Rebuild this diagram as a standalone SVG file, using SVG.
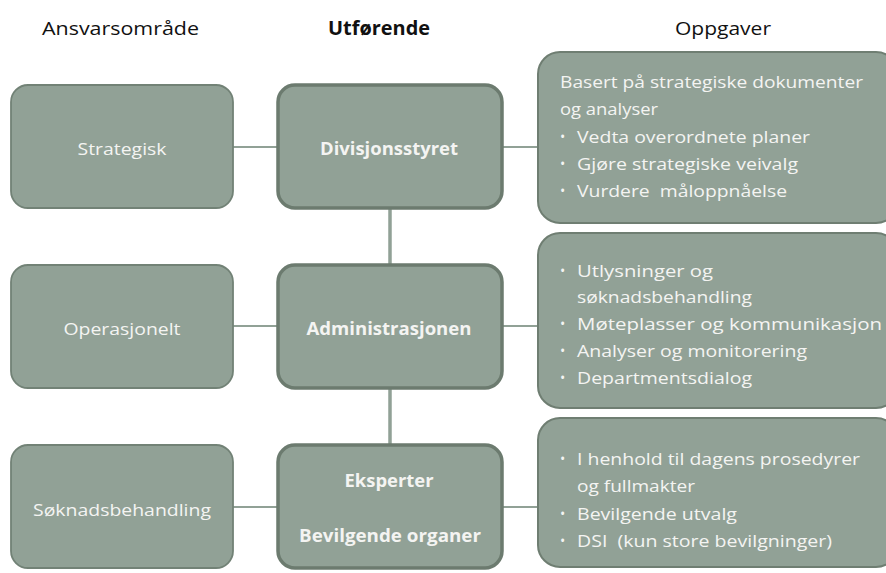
<svg xmlns="http://www.w3.org/2000/svg" width="886" height="573" viewBox="0 0 886 573">
<style>
.hdr{font-family:"Open Sans","Liberation Sans",sans-serif;font-size:19px;fill:#111;}
.b{font-weight:bold;}
.lbox{fill:#91a196;stroke:#728276;stroke-width:1.8;}
.mbox{fill:#91a196;stroke:#6c7b6f;stroke-width:3.5;}
.rbox{fill:#91a196;stroke:#6f7e72;stroke-width:2;}
.t{font-family:"Open Sans","Liberation Sans",sans-serif;font-size:17px;fill:#f4f4f2;}
.bu{font-family:"Open Sans","Liberation Sans",sans-serif;font-size:14px;fill:#f4f4f2;}
.c{text-anchor:middle;}
.con{stroke:#91a196;fill:none;}
</style>
<rect width="886" height="573" fill="#ffffff"/>
<text class="hdr" x="42" y="35" textLength="157" lengthAdjust="spacingAndGlyphs">Ansvarsområde</text>
<text class="hdr b" x="328" y="35" textLength="102" lengthAdjust="spacingAndGlyphs">Utførende</text>
<text class="hdr" x="675" y="35" textLength="96" lengthAdjust="spacingAndGlyphs">Oppgaver</text>
<g id="connectors">
<line class="con" x1="233" y1="147" x2="278" y2="147" stroke-width="2"/>
<line class="con" x1="502" y1="147" x2="538" y2="147" stroke-width="2"/>
<line class="con" x1="233" y1="326" x2="278" y2="326" stroke-width="2"/>
<line class="con" x1="502" y1="326" x2="538" y2="326" stroke-width="2"/>
<line class="con" x1="233" y1="507" x2="278" y2="507" stroke-width="2"/>
<line class="con" x1="502" y1="507" x2="538" y2="507" stroke-width="2"/>
<line class="con" x1="390" y1="208" x2="390" y2="265" stroke-width="3.5"/>
<line class="con" x1="390" y1="388" x2="390" y2="445" stroke-width="3.5"/>
</g>
<g id="strategisk">
<rect class="lbox" x="11" y="85" width="222" height="123" rx="17"/>
<text class="t c" x="122" y="155" textLength="89" lengthAdjust="spacingAndGlyphs">Strategisk</text>
</g>
<g id="operasjonelt">
<rect class="lbox" x="11" y="265" width="222" height="123" rx="17"/>
<text class="t c" x="122" y="335" textLength="117" lengthAdjust="spacingAndGlyphs">Operasjonelt</text>
</g>
<g id="soknadsbehandling">
<rect class="lbox" x="11" y="445" width="222" height="123" rx="17"/>
<text class="t c" x="122" y="516" textLength="178" lengthAdjust="spacingAndGlyphs">Søknadsbehandling</text>
</g>
<g id="divisjonsstyret">
<rect class="mbox" x="278" y="85" width="224" height="123" rx="17"/>
<text class="t c b" x="389" y="155" textLength="138" lengthAdjust="spacingAndGlyphs">Divisjonsstyret</text>
</g>
<g id="administrasjonen">
<rect class="mbox" x="278" y="265" width="224" height="123" rx="17"/>
<text class="t c b" x="389" y="335" textLength="165" lengthAdjust="spacingAndGlyphs">Administrasjonen</text>
</g>
<g id="eksperter">
<rect class="mbox" x="278" y="445" width="224" height="123" rx="17"/>
<text class="t c b" x="389" y="487" textLength="89" lengthAdjust="spacingAndGlyphs">Eksperter</text>
<text class="t c b" x="390" y="542" textLength="182" lengthAdjust="spacingAndGlyphs">Bevilgende organer</text>
</g>
<g id="oppgaver-strategisk">
<rect class="rbox" x="538" y="52" width="360" height="171" rx="22"/>
<text class="t" x="560" y="88" textLength="303" lengthAdjust="spacingAndGlyphs">Basert på strategiske dokumenter</text>
<text class="t" x="560" y="115" textLength="98" lengthAdjust="spacingAndGlyphs">og analyser</text>
<text class="bu" x="560" y="142">•</text>
<text class="t" x="577" y="143" textLength="233" lengthAdjust="spacingAndGlyphs">Vedta overordnete planer</text>
<text class="bu" x="560" y="169">•</text>
<text class="t" x="577" y="170" textLength="221" lengthAdjust="spacingAndGlyphs">Gjøre strategiske veivalg</text>
<text class="bu" x="560" y="196">•</text>
<text class="t" x="577" y="197" textLength="210" lengthAdjust="spacingAndGlyphs" xml:space="preserve">Vurdere  måloppnåelse</text>
</g>
<g id="oppgaver-operasjonelt">
<rect class="rbox" x="538" y="233" width="360" height="175" rx="22"/>
<text class="bu" x="560" y="276">•</text>
<text class="t" x="577" y="277" textLength="136" lengthAdjust="spacingAndGlyphs">Utlysninger og</text>
<text class="t" x="577" y="303" textLength="175" lengthAdjust="spacingAndGlyphs">søknadsbehandling</text>
<text class="bu" x="560" y="329">•</text>
<text class="t" x="577" y="330" textLength="305" lengthAdjust="spacingAndGlyphs">Møteplasser og kommunikasjon</text>
<text class="bu" x="560" y="356">•</text>
<text class="t" x="577" y="357" textLength="230" lengthAdjust="spacingAndGlyphs">Analyser og monitorering</text>
<text class="bu" x="560" y="383">•</text>
<text class="t" x="577" y="384" textLength="175" lengthAdjust="spacingAndGlyphs">Departmentsdialog</text>
</g>
<g id="oppgaver-soknad">
<rect class="rbox" x="538" y="418" width="360" height="149" rx="22"/>
<text class="bu" x="560" y="464">•</text>
<text class="t" x="577" y="465" textLength="283" lengthAdjust="spacingAndGlyphs">I henhold til dagens prosedyrer</text>
<text class="t" x="577" y="492" textLength="118" lengthAdjust="spacingAndGlyphs">og fullmakter</text>
<text class="bu" x="560" y="519">•</text>
<text class="t" x="577" y="520" textLength="160" lengthAdjust="spacingAndGlyphs">Bevilgende utvalg</text>
<text class="bu" x="560" y="546">•</text>
<text class="t" x="577" y="547" textLength="255" lengthAdjust="spacingAndGlyphs" xml:space="preserve">DSI  (kun store bevilgninger)</text>
</g>
</svg>
